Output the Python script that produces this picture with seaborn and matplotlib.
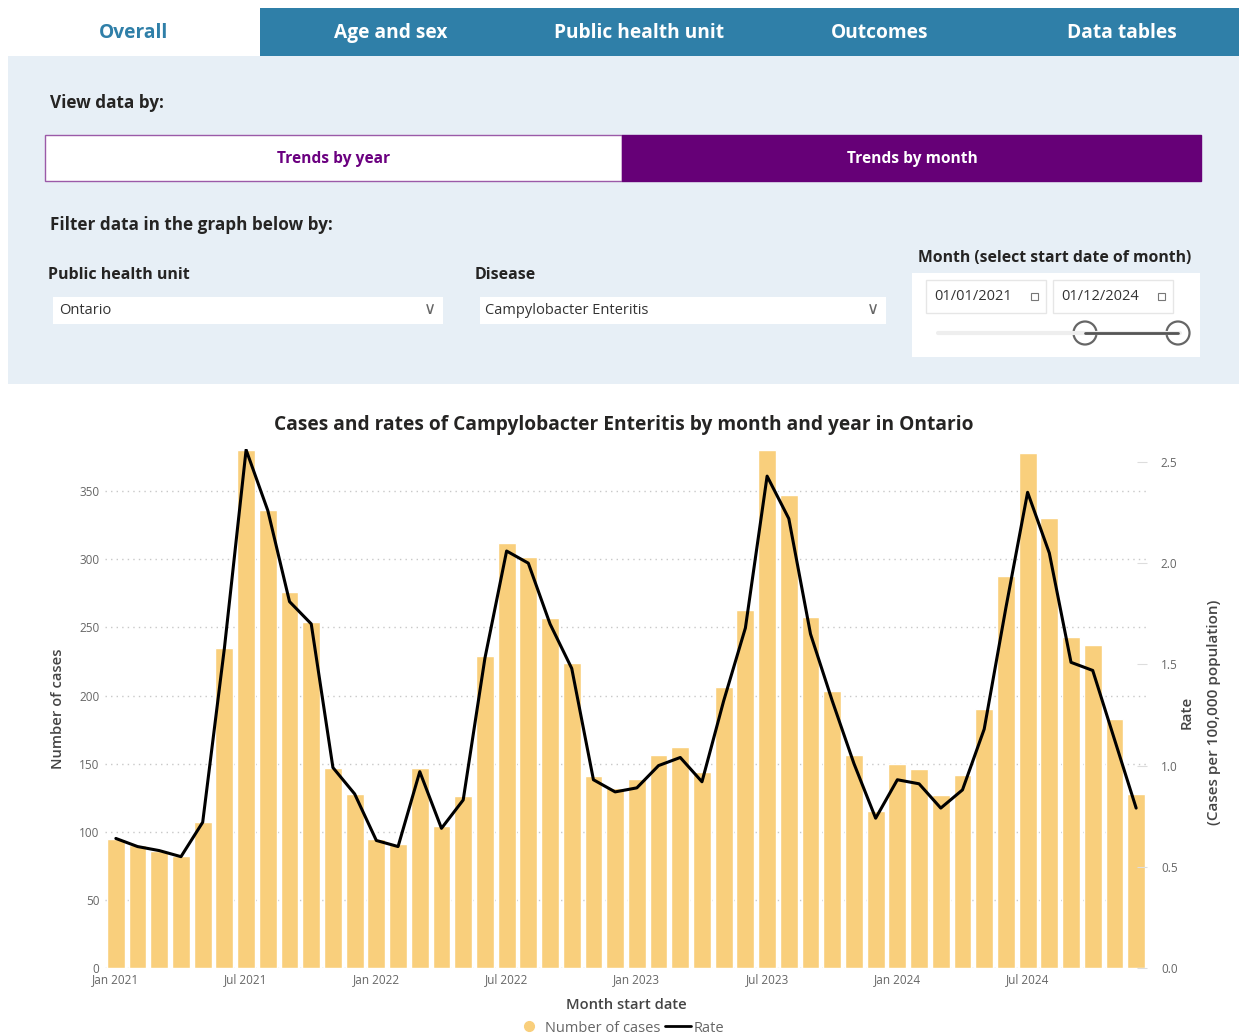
import numpy as np
import pandas as pd
import matplotlib
matplotlib.use("Agg")
import matplotlib.pyplot as plt
from matplotlib.patches import Rectangle, Circle
from matplotlib.lines import Line2D
import seaborn as sns

# Monthly Campylobacter Enteritis counts and rates, Ontario, Jan 2021 - Dec 2024
months = pd.date_range("2021-01-01", "2024-12-01", freq="MS")
cases = [
    95, 90, 86, 82, 107, 235, 380, 336, 276, 254, 147, 128,
    95, 91, 147, 104, 126, 229, 312, 302, 257, 224, 141, 132,
    139, 156, 162, 144, 206, 263, 380, 347, 258, 203, 156, 115,
    150, 146, 127, 142, 190, 288, 378, 330, 243, 237, 183, 128,
]
rates = [
    0.64, 0.60, 0.58, 0.55, 0.72, 1.58, 2.56, 2.26, 1.81, 1.70, 0.99, 0.86,
    0.63, 0.60, 0.97, 0.69, 0.83, 1.53, 2.06, 2.00, 1.70, 1.48, 0.93, 0.87,
    0.89, 1.00, 1.04, 0.92, 1.32, 1.68, 2.43, 2.22, 1.65, 1.32, 1.01, 0.74,
    0.93, 0.91, 0.79, 0.88, 1.18, 1.78, 2.35, 2.05, 1.51, 1.47, 1.13, 0.79,
]
xtick_pos = [0, 6, 12, 18, 24, 30, 36, 42]
xtick_labels = ["Jan 2021", "Jul 2021", "Jan 2022", "Jul 2022",
                "Jan 2023", "Jul 2023", "Jan 2024", "Jul 2024"]
tabs = ["Overall", "Age and sex", "Public health unit", "Outcomes", "Data tables"]

df = pd.DataFrame({"month": months, "idx": np.arange(len(months)),
                   "cases": cases, "rate": rates})

sns.set_style("white")
plt.rcParams["font.family"] = ["Open Sans", "DejaVu Sans"]

W, H = 1239, 1035
fig = plt.figure(figsize=(W / 100, H / 100), dpi=100)

# background layer in pixel coordinates for the dashboard controls
bg = fig.add_axes([0, 0, 1, 1], zorder=0)
bg.set_xlim(0, W)
bg.set_ylim(H, 0)
bg.axis("off")

TEAL = "#2f7fa8"
PURPLE = "#660077"
PANEL = "#e7eff6"
DARK = "#252423"

# tabs
bg.add_patch(Rectangle((260, 8), W - 260, 48, color=TEAL, lw=0))
tab_x = [133, 391, 639, 880, 1122]
for i, (t, x) in enumerate(zip(tabs, tab_x)):
    bg.text(x, 33, t, ha="center", va="center", fontsize=13.8, fontweight="bold",
            color=TEAL if i == 0 else "white")

# filter panel
bg.add_patch(Rectangle((8, 56), W - 8, 328, color=PANEL, lw=0))
bg.text(50, 103, "View data by:", ha="left", va="center", fontsize=12.3,
        fontweight="bold", color=DARK)
bg.add_patch(Rectangle((45, 135), 577, 46, facecolor="white", edgecolor="#9b5aa8", lw=1))
bg.add_patch(Rectangle((622, 135), 579, 46, facecolor=PURPLE, edgecolor=PURPLE, lw=1))
bg.text(334, 159, "Trends by year", ha="center", va="center", fontsize=11.2,
        fontweight="bold", color="#6b0080")
bg.text(912, 159, "Trends by month", ha="center", va="center", fontsize=11.2,
        fontweight="bold", color="white")
bg.text(50, 225, "Filter data in the graph below by:", ha="left", va="center",
        fontsize=12.3, fontweight="bold", color=DARK)

bg.text(48, 275, "Public health unit", ha="left", va="center", fontsize=11.5,
        fontweight="bold", color=DARK)
bg.add_patch(Rectangle((53, 297), 390, 27, color="white", lw=0))
bg.text(59, 311, "Ontario", ha="left", va="center", fontsize=10.5, color="#333333")
bg.text(430, 309, "\u2228", ha="center", va="center", fontsize=12, color="#666666",
        family="DejaVu Sans")

bg.text(475, 275, "Disease", ha="left", va="center", fontsize=11.5,
        fontweight="bold", color=DARK)
bg.add_patch(Rectangle((480, 297), 406, 27, color="white", lw=0))
bg.text(485, 311, "Campylobacter Enteritis", ha="left", va="center",
        fontsize=10.5, color="#333333")
bg.text(873, 309, "\u2228", ha="center", va="center", fontsize=12, color="#666666",
        family="DejaVu Sans")

bg.text(918, 258, "Month (select start date of month)", ha="left", va="center",
        fontsize=11.3, fontweight="bold", color=DARK)
bg.add_patch(Rectangle((912, 273), 288, 84, color="white", lw=0))
for x0, d in [(926, "01/01/2021"), (1053, "01/12/2024")]:
    bg.add_patch(Rectangle((x0, 280), 120, 33, facecolor="white",
                           edgecolor="#e6e6e6", lw=1))
    bg.text(x0 + 8, 297, d, ha="left", va="center", fontsize=10.5, color="#333333")
    bg.add_patch(Rectangle((x0 + 105, 293), 7, 7, facecolor="white",
                           edgecolor="#777777", lw=0.8))
bg.plot([938, 1180], [333, 333], color="#eeeeee", lw=3, solid_capstyle="round")
bg.plot([1085, 1178], [333, 333], color="#555555", lw=2)
for cx in (1085, 1178):
    bg.add_patch(Circle((cx, 333), 11.5, facecolor="white", edgecolor="#666666", lw=1.6))

# chart title and axis side labels
bg.text(624, 425, "Cases and rates of Campylobacter Enteritis by month and year in Ontario",
        ha="center", va="center", fontsize=13.8, fontweight="bold", color=DARK)
bg.text(1187, 712, "Rate", ha="center", va="center", rotation=90,
        fontsize=11, fontweight="semibold", color="#444444")
bg.text(1214, 712, "(Cases per 100,000 population)", ha="center", va="center",
        rotation=90, fontsize=11, fontweight="semibold", color="#444444")

# main chart
left, right, top, bottom = 105, 1147, 449, 968
ax = fig.add_axes([left / W, 1 - bottom / H, (right - left) / W, (bottom - top) / H],
                  zorder=2)
ax.patch.set_alpha(0)
sns.barplot(data=df, x="idx", y="cases", color="#f9cf7c", saturation=1,
            width=0.82, ax=ax, zorder=2)
ax.set_xlim(-0.5, len(months) - 0.5)
ax.set_ylim(0, 381)
ax.set_yticks(range(0, 351, 50))
ax.yaxis.grid(True, linestyle=(0, (1, 3)), color="#c8c8c8", lw=1)
ax.set_axisbelow(True)
ax.set_xticks(xtick_pos)
ax.set_xticklabels(xtick_labels)
ax.tick_params(axis="both", length=0, labelsize=8.5, labelcolor="#666666", pad=4)
ax.set_ylabel("Number of cases", fontsize=10.6, fontweight="semibold",
              color="#444444", labelpad=10)
ax.set_xlabel("Month start date", fontsize=10.6, fontweight="semibold",
              color="#444444", labelpad=8)
sns.despine(ax=ax, left=True, bottom=True)

ax2 = ax.twinx()
sns.lineplot(data=df, x="idx", y="rate", color="black", lw=2.2, ax=ax2)
ax2.set_xlim(-0.5, len(months) - 0.5)
ax2.set_ylim(0, 2.564)
ax2.set_yticks(np.arange(0, 2.51, 0.5))
ax2.set_yticklabels([f"{v:.1f}" for v in np.arange(0, 2.51, 0.5)])
ax2.tick_params(axis="y", direction="in", length=7, color="#dddddd",
                labelsize=8.5, labelcolor="#666666", pad=10)
ax2.set_ylabel("")
sns.despine(ax=ax2, left=True, bottom=True, right=True)

handles = [
    Line2D([], [], marker="o", linestyle="none", color="#f9cf7c", markersize=7),
    Line2D([], [], color="black", lw=2),
]
fig.legend(handles, ["Number of cases", "Rate"], loc="center",
           bbox_to_anchor=(620 / W, 1 - 1028 / H), ncol=2, frameon=False,
           fontsize=10.5, labelcolor="#666666", handlelength=1.8,
           handletextpad=0.2, columnspacing=0.3)

fig.savefig("out.png", dpi=100, facecolor="white")
